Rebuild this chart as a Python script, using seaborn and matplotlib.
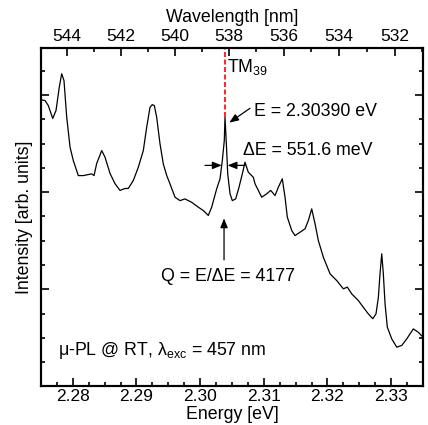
import numpy as np
import matplotlib
matplotlib.use("Agg")
import matplotlib.pyplot as plt
import seaborn as sns
from matplotlib.ticker import MultipleLocator, NullFormatter

# ---- data ----
energy_ev = [
    2.27500, 2.27563, 2.27615, 2.27684, 2.27736, 2.27787, 2.27825, 2.27861, 2.27904, 2.27956,
    2.28007, 2.28086, 2.28164, 2.28296, 2.28333, 2.28375, 2.28454, 2.28505, 2.28584, 2.28662,
    2.28741, 2.28820, 2.28871, 2.28950, 2.29028, 2.29107, 2.29160, 2.29212, 2.29248, 2.29280,
    2.29317, 2.29369, 2.29421, 2.29475, 2.29526, 2.29605, 2.29683, 2.29762, 2.29867, 2.29971,
    2.30050, 2.30128, 2.30181, 2.30260, 2.30312, 2.30348, 2.30379, 2.30390, 2.30411, 2.30433,
    2.30469, 2.30505, 2.30558, 2.30610, 2.30662, 2.30704, 2.30756, 2.30835, 2.30862, 2.30967,
    2.31045, 2.31108, 2.31176, 2.31228, 2.31290, 2.31333, 2.31369, 2.31438, 2.31490, 2.31569,
    2.31647, 2.31699, 2.31752, 2.31804, 2.31856, 2.31935, 2.32040, 2.32145, 2.32249, 2.32312,
    2.32381, 2.32484, 2.32563, 2.32641, 2.32711, 2.32762, 2.32799, 2.32825, 2.32852, 2.32877,
    2.32904, 2.32940, 2.33009, 2.33088, 2.33167, 2.33245, 2.33348, 2.33427, 2.33500,
]
intensity = [
    11.80, 11.77, 11.56, 11.03, 11.36, 12.32, 12.87, 12.59, 11.08, 9.85,
    9.30, 8.68, 8.68, 8.75, 8.68, 9.18, 9.71, 9.44, 8.77, 8.35,
    8.07, 8.15, 8.15, 8.48, 9.02, 9.71, 10.67, 11.49, 11.60, 11.56,
    11.08, 9.99, 9.16, 8.68, 8.34, 7.79, 7.65, 7.72, 7.58, 7.38,
    7.24, 7.04, 7.38, 8.14, 8.55, 9.30, 10.12, 11.08, 10.01, 8.75,
    7.93, 7.65, 7.72, 8.20, 8.75, 9.23, 8.82, 8.61, 8.34, 7.79,
    7.93, 8.07, 7.86, 8.20, 8.55, 7.79, 6.97, 6.42, 6.21, 6.35,
    6.49, 6.83, 7.31, 6.70, 6.01, 5.32, 4.64, 4.36, 4.02, 4.09,
    3.81, 3.54, 3.26, 2.99, 2.79, 2.99, 3.67, 4.64, 5.46, 4.64,
    3.40, 2.44, 1.96, 1.62, 1.69, 1.96, 2.37, 2.23, 2.03,
]
mode_energy = 2.30390
mode_label = "TM$_{39}$"
energy_text = "E = 2.30390 eV"
width_text = "ΔE = 551.6 meV"
q_text = "Q = E/ΔE = 4177"
cond_text = "μ-PL @ RT, λ$_{\\mathrm{exc}}$ = 457 nm"
wl_major = [544, 542, 540, 538, 536, 534, 532]
wl_minor = list(range(531, 546))
hc = 1239.84

sns.set_theme(style="ticks")
plt.rcParams["font.family"] = ["Liberation Sans", "DejaVu Sans"]
plt.rcParams["mathtext.fontset"] = "custom"
plt.rcParams["mathtext.rm"] = "Liberation Sans"
plt.rcParams["mathtext.it"] = "Liberation Sans:italic"
plt.rcParams["mathtext.default"] = "rm"
for k in ["text.color", "axes.labelcolor", "xtick.color", "ytick.color", "axes.edgecolor"]:
    plt.rcParams[k] = "black"

fs = 12.8
tfs = 12.5
fig = plt.figure(figsize=(4.28, 4.25), dpi=100)
ax = fig.add_axes([0.0958, 0.0906, 0.8925, 0.7964])

sns.lineplot(x=energy_ev, y=intensity, ax=ax, color="black", lw=0.9, sort=False)

ax.set_xlim(2.275, 2.335)
ax.set_ylim(0, 13.93)
ax.xaxis.set_major_locator(MultipleLocator(0.01))
ax.xaxis.set_minor_locator(MultipleLocator(0.0025))
ax.yaxis.set_major_locator(MultipleLocator(4))
ax.yaxis.set_minor_locator(MultipleLocator(1))
ax.yaxis.set_major_formatter(NullFormatter())
ax.set_xticks(ax.get_xticks())
ax.set_xticklabels([f"{t:.2f}" for t in ax.get_xticks()])
ax.set_xlim(2.275, 2.335)

for s in ax.spines.values():
    s.set_linewidth(1.5)
    s.set_color("black")

ax.tick_params(axis="x", which="both", direction="in", bottom=True, top=False,
               labelsize=tfs, pad=2)
ax.tick_params(axis="y", which="both", direction="in", left=True, right=True,
               labelleft=False)
ax.tick_params(which="major", length=6, width=1.2)
ax.tick_params(which="minor", length=3, width=1.2)

ax.set_xlabel("Energy [eV]", fontsize=fs, labelpad=1)
ax.set_ylabel("Intensity [arb. units]", fontsize=fs, labelpad=6)

# top wavelength axis
ax2 = ax.twiny()
ax2.set_xlim(ax.get_xlim())
ax2.set_xticks([hc / w for w in wl_major])
ax2.set_xticklabels([str(w) for w in wl_major])
ax2.set_xticks([hc / w for w in wl_minor if w not in wl_major], minor=True)
ax2.set_xlim(ax.get_xlim())
ax2.tick_params(axis="x", which="both", direction="in", labelsize=tfs, pad=3)
ax2.tick_params(which="major", length=6, width=1.2)
ax2.tick_params(which="minor", length=3, width=1.2)
ax2.set_xlabel("Wavelength [nm]", fontsize=fs, labelpad=5)
for s in ax2.spines.values():
    s.set_linewidth(1.5)

# red dashed mode line
peak_val = intensity[energy_ev.index(mode_energy)]
ax.plot([mode_energy, mode_energy], [peak_val, 13.93], color="#ff0000", lw=1.2,
        ls=(0, (3, 1.5)))

ax.text(2.30422, 12.93, mode_label, fontsize=fs, va="baseline", ha="left")
ax.text(2.30846, 11.13, energy_text, fontsize=fs, va="baseline", ha="left")
ax.text(2.30678, 9.53, width_text, fontsize=fs, va="baseline", ha="left")
ax.text(2.29385, 4.34, q_text, fontsize=fs, va="baseline", ha="left")
ax.text(2.27767, 1.30, cond_text, fontsize=fs, va="baseline", ha="left")

aprops = dict(arrowstyle="-|>,head_length=0.55,head_width=0.22", color="black",
              lw=0.9, shrinkA=0, shrinkB=0, mutation_scale=10)
ax.annotate("", xy=(2.30458, 10.86), xytext=(2.30783, 11.45), arrowprops=aprops)
ax.annotate("", xy=(2.30339, 9.10), xytext=(2.30076, 9.10), arrowprops=aprops)
ax.annotate("", xy=(2.30430, 9.10), xytext=(2.30704, 9.10), arrowprops=aprops)
ax.annotate("", xy=(2.30375, 6.92), xytext=(2.30375, 5.21), arrowprops=aprops)

fig.savefig("out.png", dpi=100)
